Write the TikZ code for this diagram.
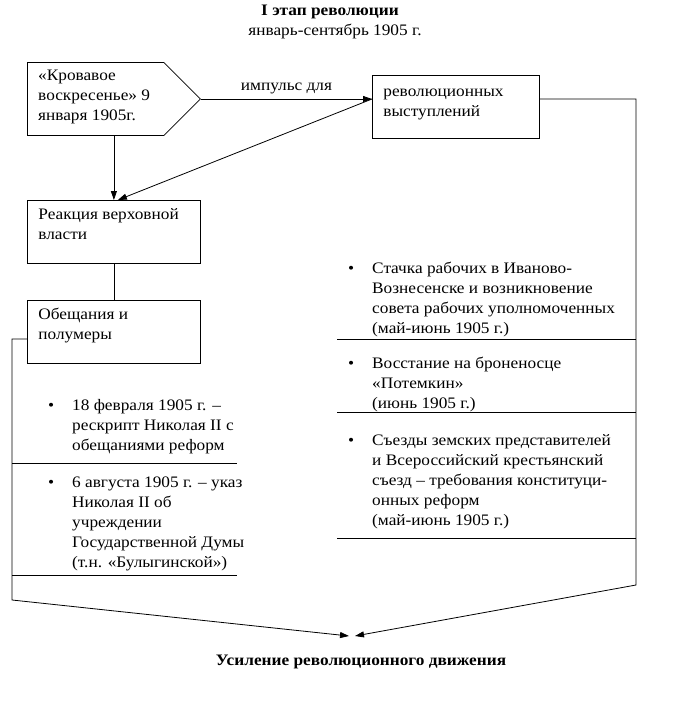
\documentclass[tikz,border=0pt]{standalone}
\usepackage{fontspec}
\setmainfont{Liberation Serif}[FakeStretch=1.08]
\usetikzlibrary{arrows.meta,positioning,calc,shapes.symbols}
\newcommand{\itm}[1]{\makebox[24pt][l]{\textbullet}\parbox[t]{260pt}{#1}}
\newcommand{\boxtxt}[2]{\parbox[c][47pt][t]{#1}{#2}}

\begin{document}
\begin{tikzpicture}[x=1pt, y=-1pt, every node/.style={font=\fontsize{16pt}{20pt}\selectfont},
    stage/.style={draw, line width=0.8pt, anchor=north west, inner xsep=11pt, inner ysep=8pt},
    item/.style={anchor=base west, inner sep=0pt},
    flow/.style={-{Triangle[length=9pt,width=6pt]}, line width=0.8pt},
    link/.style={line width=0.8pt}]
    \useasboundingbox (0,0) rectangle (674,713);
    % heading
    \node[font=\fontsize{16pt}{20pt}\selectfont\bfseries] (title) at (330,12) {I этап революции};
    \node (period) at (335,31) {январь-сентябрь 1905 г.};
    % upper part
    \node[draw, line width=0.8pt, shape=signal, signal to=east, signal pointer angle=90,
      minimum width=173pt, minimum height=73pt, anchor=west] (blood) at (27,99) {};
    \node[item] (bloodtxt) at (38,80) {\parbox[t]{140pt}{«Кровавое\\воскресенье» 9\\января 1905г.}};
    \node[stage] (rev) at (372,75) {\boxtxt{145pt}{\vspace*{6pt}революционных\\выступлений}};
    \node[stage] (react) at (27,200) {\boxtxt{151pt}{Реакция верховной\\власти}};
    \node[stage] (prom) at (27,300) {\boxtxt{151pt}{Обещания и\\полумеры}};
    \draw[flow] (blood.east) -- node[above=1pt] (impulse) {импульс для} (blood.east -| rev.west);
    \draw[flow] (blood.south -| react.north) -- (react.north);
    \draw[flow] (blood.east -| rev.west) -- ([xshift=4pt]react.north);
    \draw[link] (react.south) -- (prom.north);
    % left list
    \node[item] (feb) at (48,410) {\itm{18 февраля 1905 г. --\\рескрипт Николая II с\\обещаниями реформ}};
    \node[item] (aug) at (48,487) {\itm{6 августа 1905 г. -- указ\\Николая II об\\учреждении\\Государственной Думы\\(т.н. «Булыгинской»)}};
    \draw[link] (12,463) -- (237,463);
    \draw[link] (12,575) -- (237,575);
    % right list
    \node[item] (strike) at (348,273) {\itm{Стачка рабочих в Иваново-\\Вознесенске и возникновение\\совета рабочих уполномоченных\\(май-июнь 1905 г.)}};
    \node[item] (potemkin) at (348,368) {\itm{Восстание на броненосце\\«Потемкин»\\(июнь 1905 г.)}};
    \node[item] (zemstvo) at (348,445) {\itm{Съезды земских представителей\\и Всероссийский крестьянский\\съезд -- требования конституци-\\онных реформ\\(май-июнь 1905 г.)}};
    \draw[link] (337,339) -- (636,339);
    \draw[link] (337,412) -- (636,412);
    \draw[link] (337,538) -- (636,538);
    % result
    \coordinate (rcorner) at (636,585);
    \coordinate (lcorner) at (12,600);
    \coordinate (meetL) at (349,636);
    \coordinate (meetR) at (355,636);
    \node[font=\fontsize{16pt}{20pt}\selectfont\bfseries] (result) at (361,662) {Усиление революционного движения};
    \draw[flow] (blood.east -| rev.east) -| (rcorner) -- (meetR);
    \draw[flow] ([yshift=-7pt]prom.west) -| (lcorner) -- (meetL);
\end{tikzpicture}
\end{document}
